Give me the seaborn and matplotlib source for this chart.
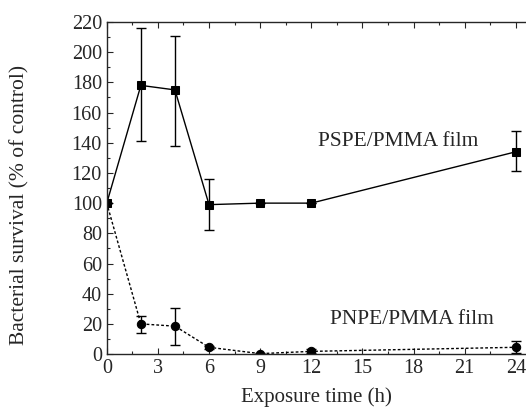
import numpy as np
import pandas as pd
import matplotlib
matplotlib.use("Agg")
import matplotlib.pyplot as plt
import seaborn as sns
from matplotlib.ticker import MultipleLocator

# exposure time (h)
hours = [0, 2, 4, 6, 9, 12, 24]

# PSPE/PMMA film
pspe_mean = [100, 178, 175, 99, 100, 100, 134]
pspe_low = [100, 141, 138, 82, 100, 100, 121]
pspe_high = [100, 216, 211, 116, 100, 100, 148]

# PNPE/PMMA film
pnpe_mean = [100, 20, 18.5, 4.5, 0.3, 1.8, 4.5]
pnpe_low = [100, 14, 6, 3.5, 0, 0.5, 1]
pnpe_high = [100, 25.5, 30.5, 5.5, 0.6, 3.5, 8.5]

sns.set_style("ticks")
plt.rcParams['font.family'] = ['Liberation Serif', 'DejaVu Serif']

df = pd.DataFrame({
    'hours': hours * 2,
    'survival': pspe_mean + pnpe_mean,
    'film': ['PSPE'] * len(hours) + ['PNPE'] * len(hours),
})

fig = plt.figure(figsize=(5.26, 4.07), dpi=100)
ax = fig.add_axes([0.203, 0.130, 0.797, 0.816])

sns.lineplot(data=df, x='hours', y='survival', hue='film', style='film',
             hue_order=['PSPE', 'PNPE'], palette=['black', 'black'],
             dashes={'PSPE': '', 'PNPE': (2, 1.5)},
             markers={'PSPE': 's', 'PNPE': 'o'}, markersize=6,
             markeredgecolor='black', linewidth=1, legend=False, ax=ax)

for mean, low, high in [(pspe_mean, pspe_low, pspe_high),
                        (pnpe_mean, pnpe_low, pnpe_high)]:
    mean = np.array(mean)
    yerr = [mean - np.array(low), np.array(high) - mean]
    ax.errorbar(hours, mean, yerr=yerr, fmt='none', ecolor='black',
                elinewidth=1, capsize=3.5, capthick=1)

ax.set_xlim(0, 24.6)
ax.set_ylim(0, 220)
ax.xaxis.set_major_locator(MultipleLocator(3))
ax.xaxis.set_minor_locator(MultipleLocator(1.5))
ax.yaxis.set_major_locator(MultipleLocator(20))
ax.yaxis.set_minor_locator(MultipleLocator(10))
ax.tick_params(which='both', direction='in', top=True, right=False,
               labelsize=14.5, width=0.8)
ax.tick_params(which='major', length=4)
ax.tick_params(which='minor', length=2)
ax.spines['right'].set_visible(False)
for s in ['left', 'bottom', 'top']:
    ax.spines[s].set_linewidth(1)

ax.set_xlabel('Exposure time (h)', fontsize=15, labelpad=7)
ax.set_ylabel('Bacterial survival (% of control)', fontsize=15.5)
ax.yaxis.set_label_coords(-0.185, 0.45)

ax.text(17.1, 141, 'PSPE/PMMA film', fontsize=15.5, ha='center', va='center')
ax.text(17.9, 23, 'PNPE/PMMA film', fontsize=15.5, ha='center', va='center')

fig.savefig('out.png', dpi=100)
